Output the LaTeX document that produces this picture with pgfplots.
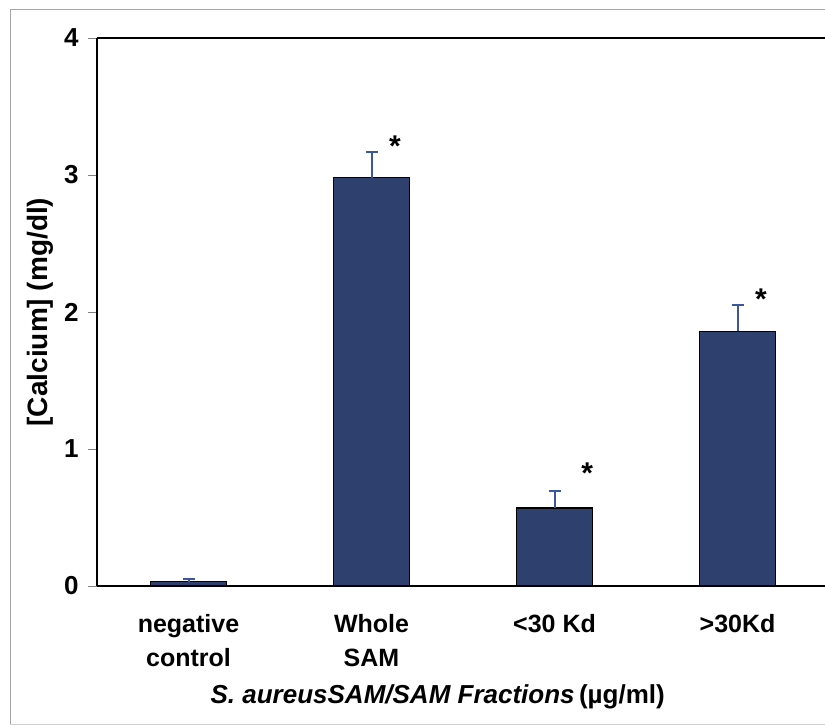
\documentclass[border=0pt]{standalone}
\usepackage{fontspec}
\setmainfont{Liberation Sans}
\usepackage{pgfplots}
\pgfplotsset{compat=1.18}
\definecolor{barblue}{RGB}{46,64,110}
\definecolor{errblue}{RGB}{58,88,160}

\begin{document}
\begin{tikzpicture}[x=1pt,y=1pt]
\useasboundingbox (0,0) rectangle (825,727);
% outer frame of the scanned figure
\draw[gray!70, line width=0.8pt] (10,3) -- (10,718) -- (825,718);
\draw[gray!35, line width=0.6pt] (10,3) -- (825,3);

\begin{axis}[
    at={(97pt,141pt)}, anchor=south west,
    scale only axis,
    width=728pt, height=548pt,
    xmin=-0.5, xmax=3.478,
    ymin=0, ymax=4,
    axis x line=box, axis y line=left,
    axis line style={-, black, line width=1.6pt},
    ytick={0,1,2,3,4},
    ytick pos=left,
    tick align=outside,
    y tick style={gray, line width=0.8pt},
    major tick length=9pt,
    yticklabel style={font=\fontsize{26}{28}\selectfont\bfseries, xshift=-6pt},
    /pgf/number format/assume math mode=true,
    xtick={0,1,2,3},
    xticklabels={negative\\control, Whole\\SAM, {<30 Kd}, {>30Kd}},
    x tick style={draw=none},
    xticklabel style={font=\fontsize{25}{34}\selectfont\bfseries, align=center, anchor=north, yshift=-16pt},
    extra x ticks={0.5,1.5,2.5},
    extra x tick labels={},
    extra x tick style={major tick length=14pt, tick align=center,
        tick style={draw=gray, line width=0.8pt}},
    xtick pos=bottom,
    every axis y label/.style={at={(axis description cs:-0.078,0.5)}, rotate=90,
        anchor=center, font=\fontsize{28}{30}\selectfont\bfseries},
    ylabel={[Calcium] (mg/dl)},
    every axis x label/.style={at={(axis description cs:0.468,0)},
        anchor=center, yshift=-111pt, font=\fontsize{26}{30}\selectfont\bfseries},
    xlabel={\textit{S. aureusSAM/SAM Fractions}\,(\textmu g/ml)},
    clip=false,
]
\addplot[ybar, bar width=76pt, fill=barblue, draw=black, line width=1.2pt,
    error bars/.cd, y dir=plus, y explicit,
    error bar style={errblue, line width=2pt},
    error mark options={errblue, line width=2pt, mark size=6pt, rotate=90}]
    coordinates {
    (0,0.03) +- (0,0.02)
    (1,2.98) +- (0,0.19)
    (2,0.57) +- (0,0.12)
    (3,1.86) +- (0,0.19)
};
\node[font=\fontsize{30}{30}\selectfont\bfseries] at (axis cs:1.128,3.21) {*};
\node[font=\fontsize{30}{30}\selectfont\bfseries] at (axis cs:2.178,0.82) {*};
\node[font=\fontsize{30}{30}\selectfont\bfseries] at (axis cs:3.128,2.09) {*};
\end{axis}
\end{tikzpicture}
\end{document}
